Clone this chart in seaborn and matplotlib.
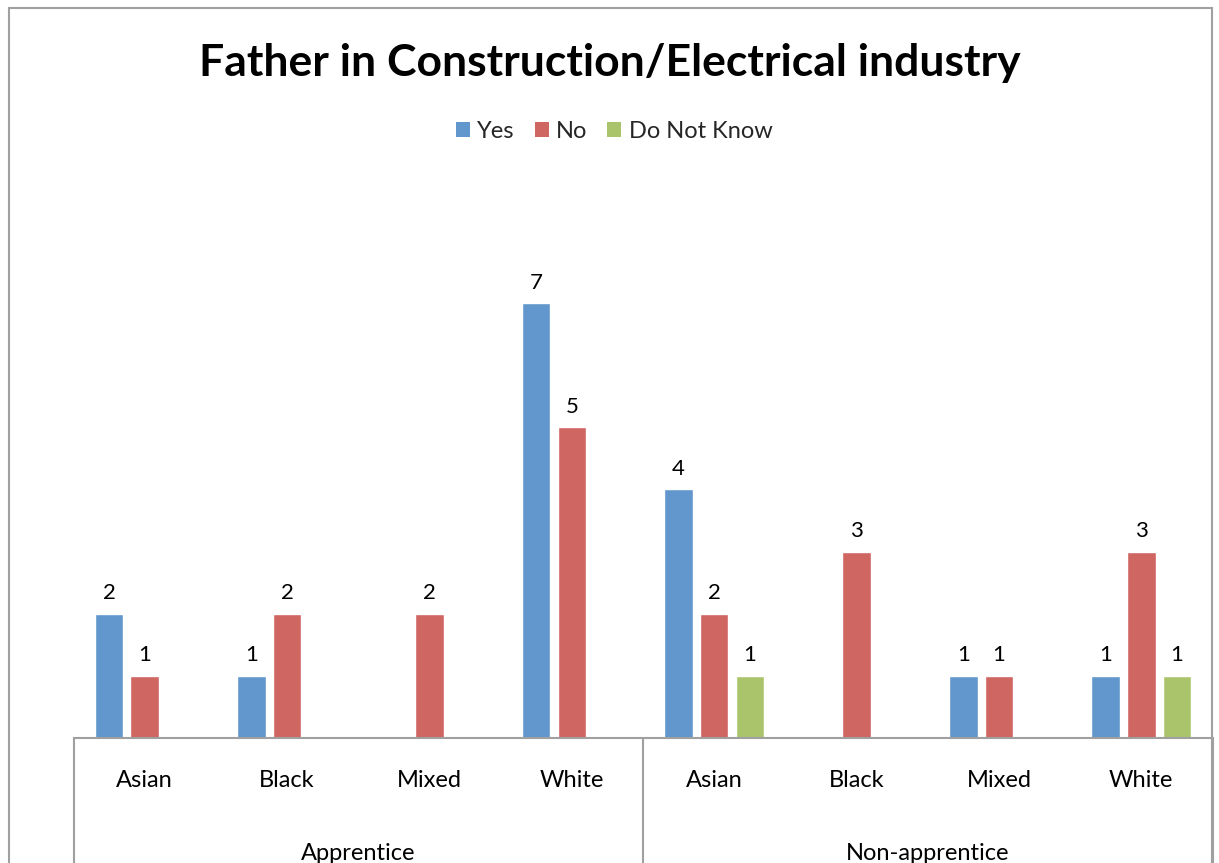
import matplotlib
matplotlib.use("Agg")
import matplotlib.pyplot as plt
import seaborn as sns
import pandas as pd
from matplotlib.patches import Rectangle
from matplotlib.lines import Line2D

groups = ["Apprentice", "Non-apprentice"]
ethnicities = ["Asian", "Black", "Mixed", "White"]
series = ["Yes", "No", "Do Not Know"]
yes_vals = [2, 1, 0, 7, 4, 0, 1, 1]
no_vals = [1, 2, 2, 5, 2, 3, 1, 3]
dnk_vals = [0, 0, 0, 0, 1, 0, 0, 1]
colors = ["#6197CC", "#CF6661", "#AAC46C"]

cats = [f"{g}|{e}" for g in groups for e in ethnicities]
rows = []
for name, vals in zip(series, [yes_vals, no_vals, dnk_vals]):
    for c, v in zip(cats, vals):
        rows.append({"cat": c, "series": name, "value": v})
df = pd.DataFrame(rows)

sns.set_theme(style="white")
plt.rcParams["font.family"] = ["Lato", "DejaVu Sans"]

W, H = 1219, 863
fig = plt.figure(figsize=(W / 100, H / 100), dpi=100)
fig.patch.set_facecolor("white")

# chart border
fig.patches.append(Rectangle((9 / W, -0.01), (1212 - 9) / W, (H - 8) / H + 0.01,
                             transform=fig.transFigure, fill=False,
                             edgecolor="#a0a0a0", linewidth=1.5))

ax_left, ax_right = 73.5 / W, 1212.5 / W
ax_bottom = (H - 737.5) / H
ax_top = (H - (737.5 - 8 * 62)) / H
ax = fig.add_axes([ax_left, ax_bottom, ax_right - ax_left, ax_top - ax_bottom])

sns.barplot(data=df, x="cat", y="value", hue="series", order=cats,
            hue_order=series, palette=colors, width=0.75, gap=0.2,
            saturation=1, ax=ax, legend=False, errorbar=None)

ax.set_xlim(-0.5, 7.5)
ax.set_ylim(0, 8)
ax.set_xlabel("")
ax.set_ylabel("")
ax.set_xticks([])
ax.set_yticks([])
for s in ["top", "left", "right"]:
    ax.spines[s].set_visible(False)
ax.spines["bottom"].set_color("#a0a0a0")
ax.spines["bottom"].set_linewidth(1.5)

for cont in ax.containers:
    labels = [f"{int(b.get_height())}" if b.get_height() > 0 else "" for b in cont]
    ax.bar_label(cont, labels=labels, padding=7.5, fontsize=16, color="black")

# category labels
trans = ax.get_xaxis_transform()
for i, c in enumerate(cats):
    ax.text(i, (737.5 - 780) / (8 * 62), c.split("|")[1], transform=trans,
            ha="center", va="center", fontsize=17, color="black", clip_on=False)
for gi, g in enumerate(groups):
    ax.text(gi * 4 + 1.5, (737.5 - 853) / (8 * 62), g, transform=trans,
            ha="center", va="center", fontsize=17, color="black", clip_on=False)
for xv in [-0.5, 3.5, 7.5]:
    ax.add_line(Line2D([xv, xv], [0, -(863 - 737.5) / (8 * 62) - 0.01],
                       transform=trans, color="#a0a0a0", linewidth=1.5, clip_on=False))

fig.text(0.5, (H - 63) / H, "Father in Construction/Electrical industry",
         ha="center", va="center", fontsize=32, fontweight="bold", color="black")

handles = [Rectangle((0, 0), 1, 1, facecolor=c, edgecolor="none") for c in colors]
fig.legend(handles, series, loc="center", bbox_to_anchor=(614 / W, (H - 131) / H),
           ncol=3, frameon=False, fontsize=17, handlelength=0.6, handleheight=0.6,
           handletextpad=0.3, columnspacing=0.85)

fig.savefig("out.png", dpi=100, facecolor="white")
